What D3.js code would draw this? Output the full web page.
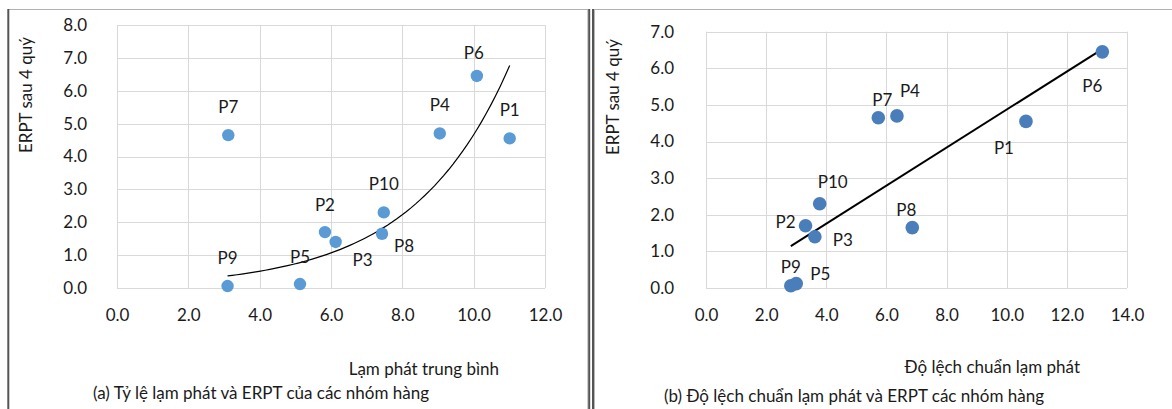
<!DOCTYPE html>
<html>
<head>
<meta charset="utf-8">
<script src="https://cdn.jsdelivr.net/npm/d3@7"></script>
<style>
  html, body { margin: 0; padding: 0; background: #fff; }
  svg { display: block; }
  text { font-family: Lato, "Open Sans", sans-serif; fill: #1a1a1a; }
</style>
</head>
<body>
<svg id="chart" width="1172" height="409"></svg>
<script>
// ---------- DATA ----------
const labels      = ["P1", "P2", "P3", "P4", "P5", "P6", "P7", "P8", "P9", "P10"];
const erpt4q      = [4.55, 1.70, 1.40, 4.70, 0.12, 6.45, 4.65, 1.65, 0.06, 2.30];
const inflMean    = [11.01, 5.83, 6.13, 9.05, 5.13, 10.09, 3.12, 7.43, 3.10, 7.48];
const inflStd     = [10.64, 3.31, 3.62, 6.35, 3.00, 13.18, 5.73, 6.86, 2.82, 3.78];
const xTicksA     = [0, 2, 4, 6, 8, 10, 12];
const yTicksA     = [0, 1, 2, 3, 4, 5, 6, 7, 8];
const xTicksB     = [0, 2, 4, 6, 8, 10, 12, 14];
const yTicksB     = [0, 1, 2, 3, 4, 5, 6, 7];
const yTitle      = "ERPT sau 4 quý";
const xTitleA     = "Lạm phát trung bình";
const xTitleB     = "Độ lệch chuẩn lạm phát";
const captionA    = "(a) Tỷ lệ lạm phát và ERPT của các nhóm hàng";
const captionB    = "(b) Độ lệch chuẩn lạm phát và ERPT các nhóm hàng";

// label placement (style): offsets of label centre from point, in px
const labelOffA = {P1:[0,-29],P2:[0,-28],P3:[27,18],P4:[0,-29],P5:[0,-28],P6:[-3,-23],P7:[0,-29],P8:[22,12],P9:[0,-29],P10:[0,-29]};
const labelOffB = {P1:[-22,26],P2:[-20,-4],P3:[28,3],P4:[13,-25],P5:[24,-10],P6:[-10,34],P7:[4,-18],P8:[-6,-18],P9:[0,-19],P10:[13,-22]};

const FS = 17;
const svg = d3.select("#chart");

// ---------- panel frames ----------
function vline(x, y1, y2, color, w) {
  svg.append("line").attr("x1", x).attr("x2", x).attr("y1", y1).attr("y2", y2)
     .attr("stroke", color).attr("stroke-width", w);
}
function hline(y, x1, x2, color, w) {
  svg.append("line").attr("x1", x1).attr("x2", x2).attr("y1", y).attr("y2", y)
     .attr("stroke", color).attr("stroke-width", w);
}
hline(9.5, 8, 590, "#b0b0b0", 1);
vline(8.3, 9, 409, "#555", 2);
vline(587.8, 9, 409, "#b8b8b8", 1);
vline(589.2, 9, 409, "#555", 2);
hline(9.5, 592, 1172, "#b0b0b0", 1);
vline(593, 9, 409, "#555", 2);
vline(594.5, 10, 409, "#b8b8b8", 1);

// ---------- chart builder ----------
function buildChart(cfg) {
  const x = d3.scaleLinear().domain(cfg.xDomain).range(cfg.xRange);
  const y = d3.scaleLinear().domain(cfg.yDomain).range(cfg.yRange);
  const g = svg.append("g");

  // gridlines
  g.append("g").selectAll("line").data(cfg.yTicks).join("line")
    .attr("x1", x(cfg.xDomain[0])).attr("x2", x(cfg.xDomain[1]))
    .attr("y1", d => Math.round(y(d)) + 0.5).attr("y2", d => Math.round(y(d)) + 0.5)
    .attr("stroke", "#d9d9d9").attr("stroke-width", 1);
  g.append("g").selectAll("line").data(cfg.xTicks).join("line")
    .attr("x1", d => Math.round(x(d)) + 0.5).attr("x2", d => Math.round(x(d)) + 0.5)
    .attr("y1", y(cfg.yDomain[0])).attr("y2", y(cfg.yDomain[1]))
    .attr("stroke", "#d9d9d9").attr("stroke-width", 1);

  // axes (labels only)
  const fmt = d3.format(".1f");
  const xAxis = g.append("g")
    .attr("transform", `translate(0,${y(cfg.yDomain[0])})`)
    .call(d3.axisBottom(x).tickValues(cfg.xTicks).tickFormat(fmt).tickSize(0).tickPadding(21));
  const yAxis = g.append("g")
    .attr("transform", `translate(${x(cfg.xDomain[0])},0)`)
    .call(d3.axisLeft(y).tickValues(cfg.yTicks).tickFormat(fmt).tickSize(0).tickPadding(cfg.yPad));
  [xAxis, yAxis].forEach(a => {
    a.select(".domain").remove();
    a.selectAll("text").attr("font-size", FS).attr("fill", "#1a1a1a")
      .attr("font-family", "Lato, 'Open Sans', sans-serif");
  });

  // trend line
  g.append("path").datum(cfg.trend)
    .attr("fill", "none").attr("stroke", "#000").attr("stroke-width", cfg.trendWidth)
    .attr("d", d3.line().x(d => x(d[0])).y(d => y(d[1])));

  // points
  const pts = labels.map((l, i) => ({ l, xv: cfg.xs[i], yv: cfg.ys[i] }));
  g.append("g").selectAll("circle").data(pts).join("circle")
    .attr("cx", d => x(d.xv)).attr("cy", d => y(d.yv)).attr("r", cfg.r)
    .attr("fill", cfg.color);

  // point labels
  g.append("g").selectAll("text").data(pts).join("text")
    .attr("x", d => x(d.xv) + cfg.off[d.l][0])
    .attr("y", d => y(d.yv) + cfg.off[d.l][1])
    .attr("text-anchor", "middle").attr("dominant-baseline", "central")
    .attr("font-size", FS).text(d => d.l);

  // titles
  g.append("text")
    .attr("transform", `translate(${cfg.yTitleX},${cfg.yTitleY}) rotate(-90)`)
    .attr("text-anchor", "middle").attr("dominant-baseline", "central")
    .attr("font-size", FS).text(yTitle);
  g.append("text").attr("x", cfg.xTitleX).attr("y", cfg.xTitleY)
    .attr("text-anchor", "end").attr("dominant-baseline", "central")
    .attr("font-size", FS).text(cfg.xTitle);
  g.append("text").attr("x", cfg.capX).attr("y", cfg.capY)
    .attr("text-anchor", "middle").attr("dominant-baseline", "central")
    .attr("font-size", FS).text(cfg.caption);
}

// ---------- trends fitted from data ----------
// (a) exponential trend y = a*exp(b*x), least squares on ln(y)
function expFit(xs, ys) {
  const n = xs.length, lys = ys.map(Math.log);
  const mx = d3.mean(xs), my = d3.mean(lys);
  let sxy = 0, sxx = 0;
  for (let i = 0; i < n; i++) { sxy += (xs[i]-mx)*(lys[i]-my); sxx += (xs[i]-mx)**2; }
  const b = sxy / sxx, a = Math.exp(my - b*mx);
  const [x0, x1] = d3.extent(xs);
  return d3.range(0, 61).map(k => { const xv = x0 + (x1-x0)*k/60; return [xv, a*Math.exp(b*xv)]; });
}
// (b) linear trend
function linFit(xs, ys) {
  const n = xs.length, mx = d3.mean(xs), my = d3.mean(ys);
  let sxy = 0, sxx = 0;
  for (let i = 0; i < n; i++) { sxy += (xs[i]-mx)*(ys[i]-my); sxx += (xs[i]-mx)**2; }
  const b = sxy / sxx, a = my - b*mx;
  const [x0, x1] = d3.extent(xs);
  return [[x0, a + b*x0], [x1, a + b*x1]];
}

buildChart({
  xDomain: [0, 12], xRange: [117, 545], yDomain: [0, 8], yRange: [288, 25],
  xTicks: xTicksA, yTicks: yTicksA, yPad: 30,
  xs: inflMean, ys: erpt4q, color: "#5b9bd5", r: 6.2,
  trend: expFit(inflMean, erpt4q), trendWidth: 1.2,
  off: labelOffA,
  yTitleX: 25, yTitleY: 95, xTitle: xTitleA, xTitleX: 499, xTitleY: 368,
  caption: captionA, capX: 261, capY: 392
});

buildChart({
  xDomain: [0, 14], xRange: [706, 1127], yDomain: [0, 7], yRange: [288, 31.7],
  xTicks: xTicksB, yTicks: yTicksB, yPad: 32,
  xs: inflStd, ys: erpt4q, color: "#4a7ebb", r: 6.8,
  trend: linFit(inflStd, erpt4q), trendWidth: 2,
  off: labelOffB,
  yTitleX: 612, yTitleY: 97, xTitle: xTitleB, xTitleX: 1080, xTitleY: 366,
  caption: captionB, capX: 854, capY: 395
});
</script>
</body>
</html>
